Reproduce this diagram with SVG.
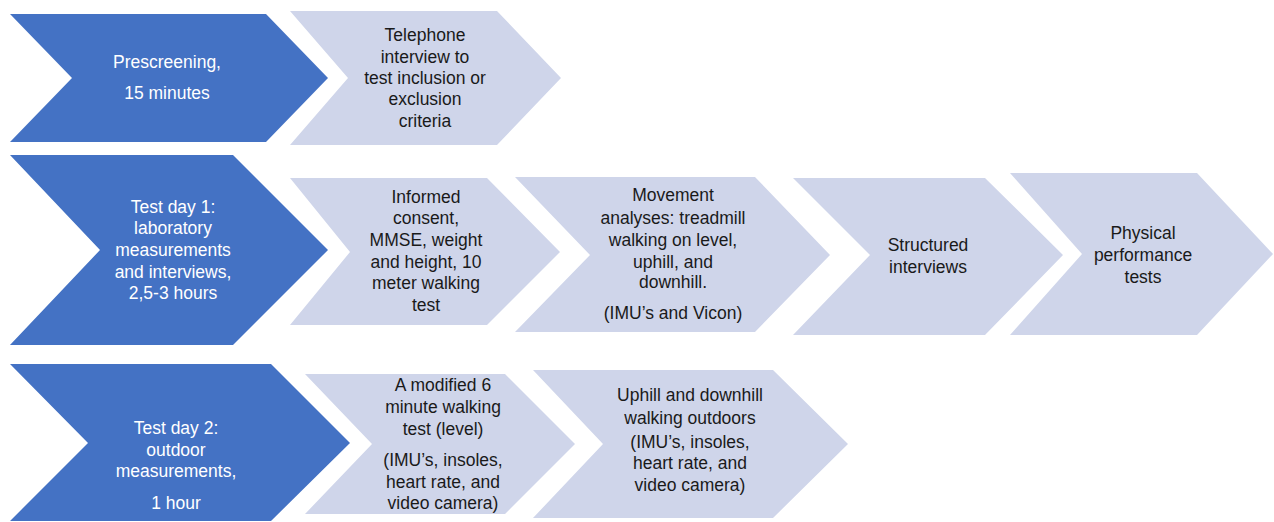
<svg xmlns="http://www.w3.org/2000/svg" width="1274" height="522" viewBox="0 0 1274 522">
<style>
.dark{fill:#4472C4}
.light{fill:#CFD5EA}
text{font-family:"Liberation Sans",Arial,sans-serif;font-size:17.5px;text-anchor:middle}
.wt{fill:#FFFFFF}
.bt{fill:#1A1A1A}
</style>
<rect width="1274" height="522" fill="#FFFFFF"/>
<g id="connectors"/>
<g id="prescreening">
<polygon class="dark" points="10,14 266,14 328,78 266,142 10,142 72,78"/>
<text class="wt" x="167" y="68">Prescreening,</text>
<text class="wt" x="167" y="99">15 minutes</text>
</g>
<g id="telephone">
<polygon class="light" points="290,11 497,11 561,78 497,145 290,145 348,78"/>
<text class="bt" x="425" y="41">Telephone</text>
<text class="bt" x="425" y="63">interview to</text>
<text class="bt" x="425" y="84">test inclusion or</text>
<text class="bt" x="425" y="105">exclusion</text>
<text class="bt" x="425" y="127">criteria</text>
</g>
<g id="testday1">
<polygon class="dark" points="10,155 233,155 328,250 233,345 10,345 100,250"/>
<text class="wt" x="173" y="213">Test day 1:</text>
<text class="wt" x="173" y="234">laboratory</text>
<text class="wt" x="173" y="256">measurements</text>
<text class="wt" x="173" y="278">and interviews,</text>
<text class="wt" x="173" y="299">2,5-3 hours</text>
</g>
<g id="informed">
<polygon class="light" points="290,178 487,178 560,252 487,325 290,325 350,252"/>
<text class="bt" x="426" y="203">Informed</text>
<text class="bt" x="426" y="224">consent,</text>
<text class="bt" x="426" y="246">MMSE, weight</text>
<text class="bt" x="426" y="268">and height, 10</text>
<text class="bt" x="426" y="289">meter walking</text>
<text class="bt" x="426" y="311">test</text>
</g>
<g id="movement">
<polygon class="light" points="515,177 755,177 830,255 755,332 515,332 590,255"/>
<text class="bt" x="673" y="201">Movement</text>
<text class="bt" x="673" y="224">analyses: treadmill</text>
<text class="bt" x="673" y="246">walking on level,</text>
<text class="bt" x="673" y="268">uphill, and</text>
<text class="bt" x="673" y="288">downhill.</text>
<text class="bt" x="673" y="319">(IMU’s and Vicon)</text>
</g>
<g id="structured">
<polygon class="light" points="793,178 985,178 1063,255 985,335 793,335 870,255"/>
<text class="bt" x="928" y="251">Structured</text>
<text class="bt" x="928" y="273">interviews</text>
</g>
<g id="physical">
<polygon class="light" points="1010,173 1197,173 1273,254 1197,335 1010,335 1082,254"/>
<text class="bt" x="1143" y="239">Physical</text>
<text class="bt" x="1143" y="261">performance</text>
<text class="bt" x="1143" y="283">tests</text>
</g>
<g id="testday2">
<polygon class="dark" points="10,364 271,364 350,443 271,521 10,521 88,443"/>
<text class="wt" x="176" y="434">Test day 2:</text>
<text class="wt" x="176" y="456">outdoor</text>
<text class="wt" x="176" y="477">measurements,</text>
<text class="wt" x="176" y="509">1 hour</text>
</g>
<g id="modified">
<polygon class="light" points="305,374 505,374 575,444 505,514 305,514 372,444"/>
<text class="bt" x="443" y="391">A modified 6</text>
<text class="bt" x="443" y="413">minute walking</text>
<text class="bt" x="443" y="435">test (level)</text>
<text class="bt" x="443" y="466">(IMU’s, insoles,</text>
<text class="bt" x="443" y="488">heart rate, and</text>
<text class="bt" x="443" y="509">video camera)</text>
</g>
<g id="uphill">
<polygon class="light" points="533,370 773,370 848,444 773,518 533,518 603,444"/>
<text class="bt" x="690" y="401">Uphill and downhill</text>
<text class="bt" x="690" y="424">walking outdoors</text>
<text class="bt" x="690" y="448">(IMU’s, insoles,</text>
<text class="bt" x="690" y="469">heart rate, and</text>
<text class="bt" x="690" y="491">video camera)</text>
</g>
</svg>
